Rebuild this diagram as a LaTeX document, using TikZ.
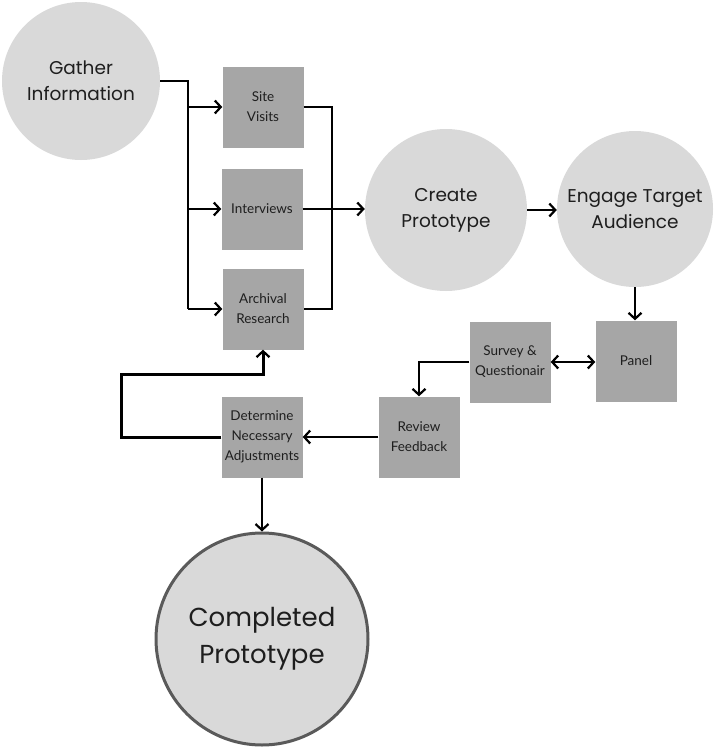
\documentclass[tikz,border=0pt]{standalone}
\usepackage{fontspec}
\setmainfont{Lato}
\newfontfamily\circfont{Poppins}
\usetikzlibrary{arrows.meta}
\definecolor{circfill}{HTML}{D9D9D9}
\definecolor{boxfill}{HTML}{A6A6A6}
\definecolor{txt}{HTML}{1E1E1E}
\definecolor{ringcol}{HTML}{5A5A5A}
\begin{document}
\begin{tikzpicture}[x=1pt,y=-1pt,
  circ/.style={circle,fill=circfill,inner sep=0pt,align=center,text=txt,
    font=\circfont\fontsize{18.5}{26}\selectfont},
  stepbox/.style={rectangle,fill=boxfill,minimum width=81pt,minimum height=81pt,
    inner sep=0pt,align=center,text=txt,font=\fontsize{13.5}{20}\selectfont},
  conn/.style={line width=2.2pt,black},
  arr/.style={conn,-{Straight Barb[length=6pt,width=13pt]}},
  darr/.style={conn,{Straight Barb[length=6pt,width=13pt]}-{Straight Barb[length=6pt,width=13pt]}},
  loopline/.style={line width=3pt,black,-{Straight Barb[length=6pt,width=13pt,line width=2.2pt]}}]
\useasboundingbox (0,0) rectangle (713,747);

% nodes
\node[circ,minimum size=158pt] (gather) at (81,81) {Gather\\Information};
\node[stepbox] (site) at (263,107) {Site\\Visits};
\node[stepbox] (interviews) at (262,209) {Interviews};
\node[stepbox] (archival) at (263,309) {Archival\\Research};
\node[circ,minimum size=162pt] (create) at (446,210) {Create\\Prototype};
\node[circ,minimum size=156pt] (engage) at (635,209) {Engage Target\\Audience};
\node[stepbox] (panel) at (636,361) {Panel};
\node[stepbox] (survey) at (510,362) {Survey \&\\Questionair};
\node[stepbox] (review) at (419,437) {Review\\Feedback};
\node[stepbox] (determine) at (262,437) {Determine\\Necessary\\Adjustments};
\node[circ,draw=ringcol,line width=3pt,minimum size=212pt,
  font=\circfont\fontsize{26}{37}\selectfont] (completed) at (262,639) {Completed\\Prototype};

% junction coordinates
\coordinate (split) at (188,0);
\coordinate (merge) at (332,0);
\coordinate (loopA) at (121,374);

% gather -> three boxes
\draw[conn] (gather.east) -- (split |- gather.east) -- (split |- archival.west);
\draw[arr] (split |- site.west) -- (site.west);
\draw[arr] (split |- interviews.west) -- (interviews.west);
\draw[arr] (split |- archival.west) -- (archival.west);

% boxes -> create
\draw[conn] (site.east) -- (merge |- site.east) -- (merge |- archival.east) -- (archival.east);
\draw[arr] (interviews.east) -- (interviews.east -| create.west);

\draw[arr] (create.east) -- (create.east -| engage.west);
\draw[arr] (engage.south) -- (engage.south |- panel.north);
\draw[darr] (survey.east) -- (survey.east -| panel.west);
\draw[arr] (survey.west) -| (review.north);
\draw[arr] (review.west) -- (determine.east);
\draw[arr] (determine.south) -- (completed.north);
\draw[loopline] (determine.west) -| (loopA) -| (archival.south);
\end{tikzpicture}
\end{document}
